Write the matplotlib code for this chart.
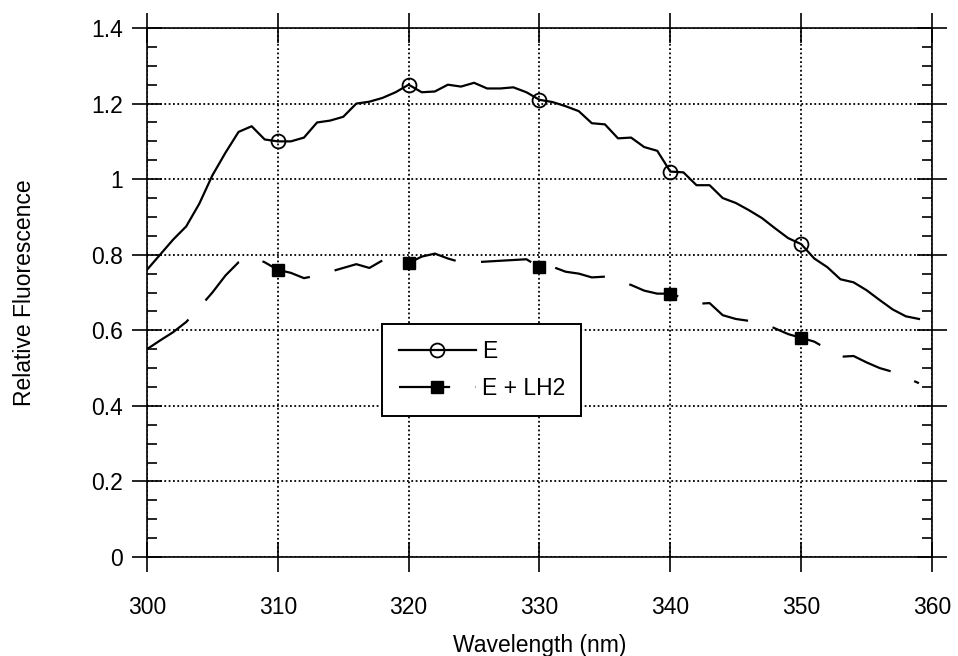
import numpy as np
import matplotlib.pyplot as plt
from matplotlib.ticker import MultipleLocator

plt.rcParams['font.family'] = ['Liberation Sans', 'DejaVu Sans']

# Longitud de onda (nm), un punto por nm
wavelength = np.arange(300, 360)

# Fluorescencia relativa de E
fluor_e = [0.76, 0.80, 0.84, 0.875, 0.935, 1.01, 1.07, 1.125, 1.14, 1.105,
           1.10, 1.10, 1.11, 1.15, 1.155, 1.165, 1.20, 1.205, 1.215, 1.23,
           1.25, 1.23, 1.232, 1.25, 1.245, 1.255, 1.24, 1.24, 1.243, 1.23,
           1.21, 1.204, 1.193, 1.18, 1.148, 1.145, 1.108, 1.11, 1.085, 1.075,
           1.02, 1.018, 0.984, 0.984, 0.95, 0.937, 0.918, 0.897, 0.87, 0.844,
           0.828, 0.79, 0.767, 0.735, 0.727, 0.706, 0.68, 0.655, 0.637, 0.63]

# Fluorescencia relativa de E + LH2
fluor_e_lh2 = [0.55, 0.573, 0.595, 0.622, 0.66, 0.70, 0.745, 0.78, 0.795, 0.78,
               0.76, 0.752, 0.738, 0.745, 0.755, 0.765, 0.775, 0.765, 0.785, 0.78,
               0.778, 0.795, 0.803, 0.79, 0.78, 0.78, 0.782, 0.784, 0.786, 0.788,
               0.767, 0.768, 0.755, 0.75, 0.74, 0.742, 0.73, 0.72, 0.705, 0.697,
               0.697, 0.685, 0.67, 0.672, 0.64, 0.63, 0.625, 0.62, 0.605, 0.59,
               0.58, 0.57, 0.55, 0.53, 0.532, 0.515, 0.50, 0.49, 0.475, 0.46]

series_labels = ["E", "E + LH2"]

fig = plt.figure(figsize=(9.58, 6.56), dpi=100)
ax = fig.add_axes([0.1534, 0.1509, 0.8195, 0.8064])

# Marcadores cada 10 nm, empezando en 310
marks = slice(10, None, 10)
ax.plot(wavelength, fluor_e, color='black', lw=1.6, marker='o', ms=10,
        mfc='none', mec='black', mew=1.3, markevery=marks, label=series_labels[0])
ax.plot(wavelength, fluor_e_lh2, color='black', lw=1.6, ls=(0, (23, 11.5)),
        marker='s', ms=8.5, mfc='black', mec='black', markevery=marks,
        label=series_labels[1])

ax.set_xlim(300, 360)
ax.set_ylim(0, 1.4)
ax.xaxis.set_major_locator(MultipleLocator(10))
ax.yaxis.set_minor_locator(MultipleLocator(0.05))
ax.set_yticks(np.arange(0, 1.41, 0.2))
ax.set_yticklabels(['0', '0.2', '0.4', '0.6', '0.8', '1', '1.2', '1.4'])

ax.grid(True, which='major', color='black', lw=1.3, ls=(0, (1, 1.4)))
ax.set_axisbelow(True)

for s in ax.spines.values():
    s.set_linewidth(1.2)

ax.tick_params(axis='x', which='major', direction='inout', length=22, width=1.2,
               top=True, bottom=True, labelsize=16.5, pad=17)
ax.tick_params(axis='y', which='major', direction='inout', length=22, width=1.2,
               left=True, right=True, labelsize=16.5, pad=6)
ax.tick_params(axis='y', which='minor', direction='in', length=7, width=1.2,
               left=True, right=True)

ax.set_xlabel("Wavelength (nm)", fontsize=16.5, labelpad=11)
ax.set_ylabel("Relative Fluorescence", fontsize=16.5, labelpad=40)

leg = ax.legend(loc='upper left', bbox_to_anchor=(0.30, 0.44), fontsize=16.5,
                frameon=True, fancybox=False, framealpha=1, edgecolor='black',
                handlelength=3.4, handletextpad=0.25, borderpad=0.7,
                labelspacing=0.6, borderaxespad=0)
leg.get_frame().set_linewidth(1.4)

fig.savefig("out.png", dpi=100)
